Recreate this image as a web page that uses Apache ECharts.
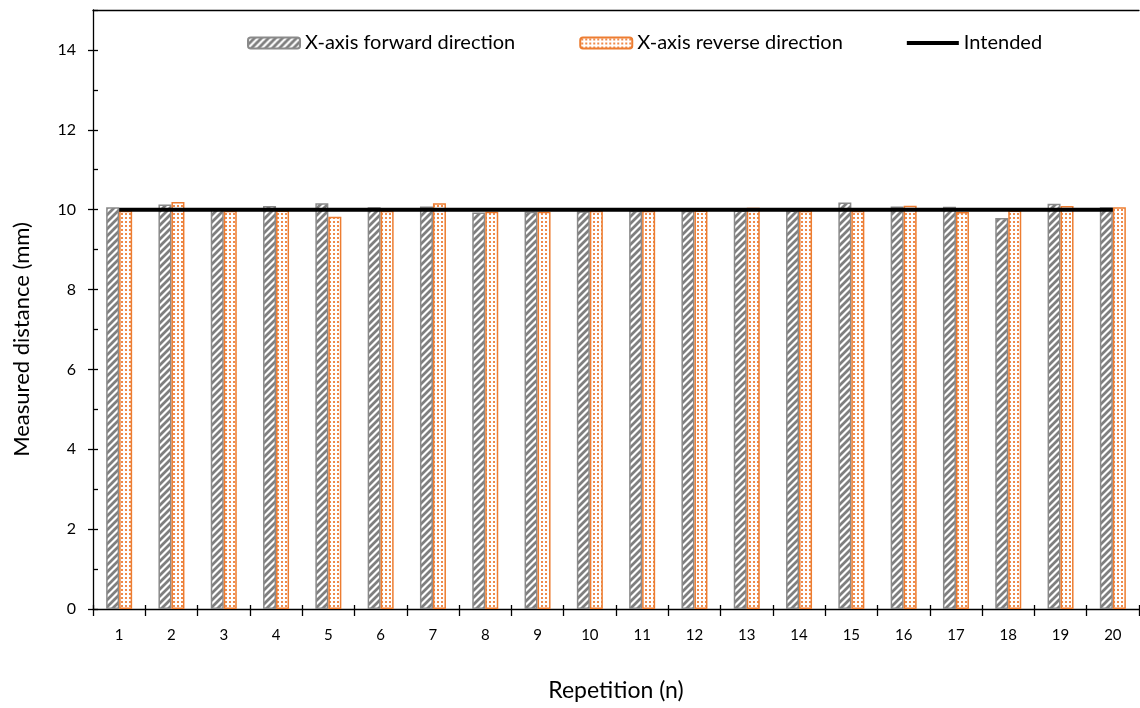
<!DOCTYPE html>
<html>
<head>
<meta charset="utf-8">
<script src="https://cdn.jsdelivr.net/npm/echarts@6/dist/echarts.min.js"></script>
<style>
  html, body { margin: 0; padding: 0; background: #fff; }
  #chart { width: 1140px; height: 708px; }
</style>
</head>
<body>
<div id="chart"></div>
<script>
// Repetition numbers on the x axis
const repetitions = ['1','2','3','4','5','6','7','8','9','10','11','12','13','14','15','16','17','18','19','20'];
// Measured distances (mm)
const forwardValues = [10.06, 10.13, 10.03, 10.09, 10.16, 10.06, 10.08, 9.93, 9.95, 9.96,
                       9.97, 9.97, 9.98, 9.98, 10.18, 10.08, 10.07, 9.79, 10.15, 10.06];
const reverseValues = [9.97, 10.19, 9.97, 9.98, 9.82, 9.97, 10.16, 9.95, 9.95, 9.97,
                       9.97, 9.98, 10.05, 9.97, 9.97, 10.10, 9.94, 9.98, 10.09, 10.06];
const intendedValues = [10, 10, 10, 10, 10, 10, 10, 10, 10, 10,
                        10, 10, 10, 10, 10, 10, 10, 10, 10, 10];
const yTicks = [0, 2, 4, 6, 8, 10, 12, 14];

const FONT = 'Lato';

// Diagonal hatch fill for the forward-direction bars
function hatchPattern() {
  const c = document.createElement('canvas');
  c.width = 7; c.height = 7;
  const g = c.getContext('2d');
  g.fillStyle = '#ffffff';
  g.fillRect(0, 0, 7, 7);
  g.strokeStyle = '#7f7f7f';
  g.lineWidth = 2.8;
  g.beginPath();
  for (let k = -7; k <= 14; k += 7) {
    g.moveTo(k - 1, 8);
    g.lineTo(k + 8, -1);
  }
  g.stroke();
  return { image: c, repeat: 'repeat' };
}

// Dotted fill for the reverse-direction bars
function dotPattern() {
  const c = document.createElement('canvas');
  c.width = 4; c.height = 4;
  const g = c.getContext('2d');
  g.fillStyle = '#ffffff';
  g.fillRect(0, 0, 4, 4);
  g.fillStyle = '#ef8a4a';
  g.fillRect(1, 1, 2, 2);
  return { image: c, repeat: 'repeat' };
}

const chart = echarts.init(document.getElementById('chart'), null, { renderer: 'canvas' });

const option = {
  animation: false,
  backgroundColor: '#ffffff',
  textStyle: { fontFamily: FONT, color: '#000' },
  grid: { left: 93, right: 1, top: 10, bottom: 99, containLabel: false },
  legend: {
    top: 28,
    left: 242,
    itemGap: 64,
    itemWidth: 52,
    itemHeight: 11,
    symbolKeepAspect: true,
    textStyle: { fontFamily: FONT, fontSize: 20, color: '#000' },
    data: [
      'X-axis forward direction',
      'X-axis reverse direction',
      { name: 'Intended', icon: 'path://M0,0 L52,0 L52,4 L0,4 Z', itemStyle: { color: '#000' } }
    ]
  },
  xAxis: [
    {
      type: 'category',
      data: repetitions,
      position: 'bottom',
      name: 'Repetition (n)',
      nameLocation: 'middle',
      nameGap: 70,
      nameTextStyle: { fontFamily: FONT, fontSize: 23, color: '#000' },
      axisLine: { show: true, lineStyle: { color: '#000', width: 1.3 } },
      axisTick: { show: true, length: 7, lineStyle: { color: '#000', width: 1.3 } },
      axisLabel: { fontFamily: FONT, fontSize: 15, color: '#000', margin: 19 },
      splitLine: { show: false }
    },
    {
      // inner half of the crossing category ticks
      type: 'category',
      data: repetitions,
      position: 'bottom',
      axisLine: { show: false },
      axisTick: { show: true, inside: true, length: 4, lineStyle: { color: '#000', width: 1.3 } },
      axisLabel: { show: false },
      splitLine: { show: false }
    },
    {
      // top frame line
      type: 'category',
      data: repetitions,
      position: 'top',
      axisLine: { show: true, lineStyle: { color: '#000', width: 1.3 } },
      axisTick: { show: false },
      axisLabel: { show: false },
      splitLine: { show: false }
    }
  ],
  yAxis: [
    {
      type: 'value',
      position: 'left',
      min: 0,
      max: 15,
      interval: 2,
      name: 'Measured distance (mm)',
      nameLocation: 'middle',
      nameGap: 60,
      nameTextStyle: { fontFamily: FONT, fontSize: 22, color: '#000', padding: [0, 60, 0, 0] },
      axisLine: { show: true, lineStyle: { color: '#000', width: 1.3 } },
      axisTick: { show: true, length: 5, lineStyle: { color: '#000', width: 1.3 } },
      axisLabel: {
        fontFamily: FONT, fontSize: 16, color: '#000', margin: 17,
        showMaxLabel: false,
        formatter: v => (yTicks.indexOf(v) >= 0 ? String(v) : '')
      },
      splitLine: { show: false }
    },
    {
      // inner ticks at every millimetre
      type: 'value',
      position: 'left',
      offset: 0,
      min: 0,
      max: 15,
      interval: 1,
      axisLine: { show: false },
      axisTick: { show: true, inside: true, length: 5, lineStyle: { color: '#000', width: 1.3 } },
      axisLabel: { show: false },
      splitLine: { show: false }
    }
  ],
  series: [
    {
      name: 'X-axis forward direction',
      type: 'bar',
      xAxisIndex: 0,
      yAxisIndex: 0,
      data: forwardValues,
      barWidth: 13,
      barGap: '0%',
      itemStyle: { color: hatchPattern(), borderColor: '#8a8a8a', borderWidth: 1.5 },
      z: 2
    },
    {
      name: 'X-axis reverse direction',
      type: 'bar',
      xAxisIndex: 0,
      yAxisIndex: 0,
      data: reverseValues,
      barWidth: 13,
      barGap: '0%',
      itemStyle: { color: dotPattern(), borderColor: '#ed7d31', borderWidth: 1.5 },
      z: 2
    },
    {
      name: 'Intended',
      type: 'line',
      xAxisIndex: 0,
      yAxisIndex: 0,
      data: intendedValues,
      symbol: 'none',
      showSymbol: false,
      lineStyle: { color: '#000', width: 4 },
      itemStyle: { color: '#000' },
      z: 5
    }
  ]
};

chart.setOption(option);
</script>
</body>
</html>
